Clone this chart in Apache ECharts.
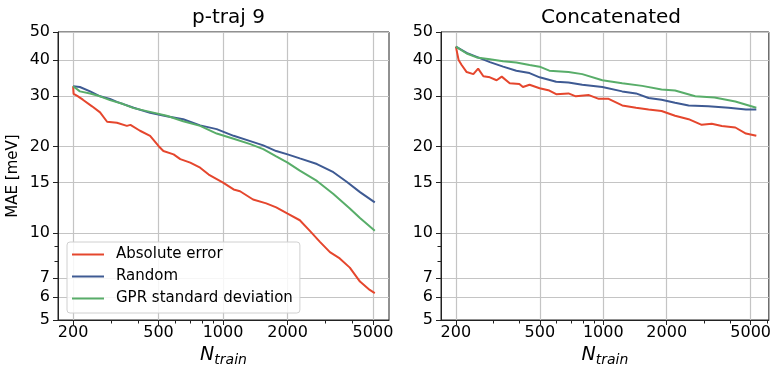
<!DOCTYPE html>
<html>
<head>
<meta charset="utf-8">
<script src="https://cdn.jsdelivr.net/npm/echarts@6/dist/echarts.min.js"></script>
<style>
html,body{margin:0;padding:0;background:#fff;}
#chart{width:774px;height:372px;}
</style>
</head>
<body>
<div id="chart"></div>
<script>
// ---- data ----
const panelTitles = ['p-traj 9', 'Concatenated'];
const seriesNames = ['Absolute error', 'Random', 'GPR standard deviation'];
const xMajorTicks = [200, 500, 1000, 2000, 5000];
const xMinorTicks = [300, 400, 600, 700, 800, 900, 3000, 4000, 6000];
const yMajorTicks = [5, 6, 7, 10, 15, 20, 30, 40, 50];
const yMinorTicks = [8, 9];

// p-traj 9
const trajErrN   = [200, 201, 209, 222, 245, 267, 288, 320, 356, 370, 410, 457, 500, 527, 588, 632, 703, 782, 857, 1000, 1120, 1200, 1380, 1590, 1770, 2000, 2280, 2540, 2830, 3150, 3500, 3900, 4350, 4830, 5100];
const trajErrMae = [32.4, 30.5, 30.0, 29.1, 27.6, 26.3, 24.4, 24.2, 23.6, 23.8, 22.7, 21.8, 20.1, 19.3, 18.8, 18.1, 17.6, 16.9, 16.0, 15.0, 14.2, 14.0, 13.1, 12.7, 12.3, 11.7, 11.1, 10.2, 9.34, 8.6, 8.18, 7.6, 6.8, 6.36, 6.2];
const trajRndN   = [200, 215, 240, 267, 297, 320, 383, 457, 546, 652, 782, 934, 1120, 1340, 1540, 1770, 2000, 2280, 2740, 3270, 3770, 4350, 5100];
const trajRndMae = [32.4, 32.2, 31.1, 29.9, 29.3, 28.6, 27.3, 26.2, 25.5, 24.9, 23.7, 23.0, 21.8, 20.9, 20.2, 19.3, 18.8, 18.2, 17.4, 16.3, 15.1, 13.9, 12.8];
const trajGprN   = [200, 215, 240, 267, 297, 342, 383, 457, 546, 652, 782, 934, 1120, 1340, 1540, 1770, 2000, 2280, 2740, 3270, 3900, 4350, 5100];
const trajGprMae = [32.4, 31.1, 30.6, 29.9, 29.0, 28.1, 27.2, 26.4, 25.6, 24.5, 23.6, 22.2, 21.3, 20.4, 19.6, 18.5, 17.6, 16.5, 15.2, 13.7, 12.2, 11.3, 10.2];

// Concatenated
const concErrN   = [200, 206, 213, 225, 242, 255, 270, 290, 312, 330, 360, 400, 416, 447, 499, 555, 598, 684, 741, 855, 952, 1060, 1230, 1430, 1640, 1890, 2190, 2540, 2930, 3270, 3650, 4230, 4750, 5320];
const concErrMae = [44.5, 40.0, 38.4, 36.3, 35.7, 37.3, 35.1, 34.8, 34.0, 35.0, 33.2, 33.0, 32.2, 32.8, 31.9, 31.3, 30.4, 30.6, 29.9, 30.2, 29.3, 29.3, 27.8, 27.3, 26.9, 26.6, 25.6, 24.9, 23.8, 24.0, 23.6, 23.3, 22.2, 21.8];
const concRndN   = [200, 225, 251, 290, 335, 387, 447, 499, 598, 684, 795, 990, 1230, 1430, 1640, 1890, 2190, 2540, 3150, 3930, 4750, 5320];
const concRndMae = [44.5, 42.3, 41.0, 39.3, 37.9, 36.7, 36.0, 34.8, 33.6, 33.4, 32.8, 32.2, 31.1, 30.6, 29.5, 29.1, 28.4, 27.8, 27.6, 27.3, 26.9, 26.9];
const concGprN   = [200, 225, 251, 290, 335, 387, 447, 499, 555, 684, 795, 990, 1230, 1530, 1890, 2190, 2730, 3370, 4230, 5320];
const concGprMae = [44.5, 42.1, 40.8, 40.2, 39.6, 39.2, 38.4, 37.9, 36.7, 36.3, 35.7, 34.0, 33.2, 32.5, 31.6, 31.3, 29.9, 29.6, 28.7, 27.3];

// ---- styling / layout ----
const colors = ['#e5462d', '#3e5a93', '#58ad69'];
const FONT = 'DejaVu Sans';
const L = Math.log10;
const xRanges = [[170, 5940], [170, 6100]];
const yRange = [5, 50];
const grids = [
  {left: 58, top: 32, width: 331, height: 290},
  {left: 441, top: 32, width: 330, height: 290}
];
const spine = '#222';
const MINOR_LEN = 3.5;

function pairs(ns, vs) { return ns.map((n, i) => [L(n), L(vs[i])]); }
function fmt(v) { return String(Math.round(Math.pow(10, v))); }

const xAxes = [], yAxes = [], series = [];
grids.forEach((g, gi) => {
  const xr = xRanges[gi];
  const xMaj = xMajorTicks.map(L), yMaj = yMajorTicks.map(L);
  xAxes.push({
    type: 'value', gridIndex: gi, position: 'bottom', min: L(xr[0]), max: L(xr[1]),
    axisLine: {show: true, onZero: false, lineStyle: {color: spine, width: 1}},
    axisTick: {show: true, customValues: xMaj, length: 5, lineStyle: {color: spine, width: 1}},
    axisLabel: {customValues: xMaj, formatter: fmt, fontFamily: FONT, fontSize: 16, color: '#000', margin: 5},
    splitLine: {show: true, lineStyle: {color: '#c4c4c4', width: 1.2}},
    name: '{n|N}{s|train}', nameLocation: 'middle', nameGap: 24,
    nameTextStyle: {rich: {
      n: {fontFamily: FONT, fontStyle: 'italic', fontSize: 19, color: '#000', lineHeight: 22},
      s: {fontFamily: FONT, fontStyle: 'italic', fontSize: 14, color: '#000', padding: [9, 0, 0, 0]}
    }}
  });
  const yMain = {
    type: 'value', gridIndex: gi, position: 'left', min: L(yRange[0]), max: L(yRange[1]),
    axisLine: {show: true, onZero: false, lineStyle: {color: spine, width: 1}},
    axisTick: {show: true, customValues: yMaj, length: 5, lineStyle: {color: spine, width: 1}},
    axisLabel: {customValues: yMaj, formatter: fmt, fontFamily: FONT, fontSize: 16, color: '#000', margin: 8},
    splitLine: {show: true, lineStyle: {color: '#c4c4c4', width: 1.2}}
  };
  if (gi === 0) {
    yMain.name = 'MAE [meV]';
    yMain.nameLocation = 'middle';
    yMain.nameGap = 37;
    yMain.nameTextStyle = {fontFamily: FONT, fontSize: 15, color: '#000'};
  }
  yAxes.push(yMain);

  // minor ticks drawn through the axis scales
  const xMinData = xMinorTicks.filter(v => v >= xr[0] && v <= xr[1]).map(v => [L(v), L(yRange[0])]);
  const yMinData = yMinorTicks.map(v => [L(xr[0]), L(v)]);
  series.push({
    type: 'custom', xAxisIndex: gi, yAxisIndex: gi, silent: true, clip: false, z: 5,
    data: xMinData,
    renderItem: (params, api) => {
      const p = api.coord([api.value(0), api.value(1)]);
      return {type: 'line', shape: {x1: Math.round(p[0]) + 0.5, y1: p[1], x2: Math.round(p[0]) + 0.5, y2: p[1] + MINOR_LEN},
        style: {stroke: '#222', lineWidth: 1}};
    }
  });
  series.push({
    type: 'custom', xAxisIndex: gi, yAxisIndex: gi, silent: true, clip: false, z: 5,
    data: yMinData,
    renderItem: (params, api) => {
      const p = api.coord([api.value(0), api.value(1)]);
      return {type: 'line', shape: {x1: p[0], y1: Math.round(p[1]) + 0.5, x2: p[0] - MINOR_LEN, y2: Math.round(p[1]) + 0.5},
        style: {stroke: '#222', lineWidth: 1}};
    }
  });
});

const panelData = [
  [pairs(trajErrN, trajErrMae), pairs(trajRndN, trajRndMae), pairs(trajGprN, trajGprMae)],
  [pairs(concErrN, concErrMae), pairs(concRndN, concRndMae), pairs(concGprN, concGprMae)]
];
panelData.forEach((sets, gi) => {
  sets.forEach((d, si) => {
    series.push({
      type: 'line', name: seriesNames[si], xAxisIndex: gi, yAxisIndex: gi,
      data: d, symbol: 'none', smooth: false, animation: false,
      lineStyle: {color: colors[si], width: 2}, itemStyle: {color: colors[si]}
    });
  });
});

const chart = echarts.init(document.getElementById('chart'), null, {renderer: 'canvas'});
chart.setOption({
  animation: false,
  color: colors,
  title: grids.map((g, gi) => ({
    text: panelTitles[gi], left: g.left + g.width / 2, top: 3, textAlign: 'center',
    textStyle: {fontFamily: FONT, fontSize: 20, fontWeight: 'normal', color: '#000'}
  })),
  grid: grids.map(g => Object.assign({show: true, borderColor: spine, borderWidth: 1, backgroundColor: 'transparent'}, g)),
  xAxis: xAxes,
  yAxis: yAxes,
  legend: {
    data: seriesNames, orient: 'vertical', left: 67, top: 242,
    icon: 'rect', itemWidth: 32, itemHeight: 2, itemGap: 7,
    padding: [5, 7, 7, 5],
    backgroundColor: 'rgba(255,255,255,0.85)', borderColor: '#d0d0d0', borderWidth: 1, borderRadius: 3,
    textStyle: {fontFamily: FONT, fontSize: 15, color: '#000', lineHeight: 15, padding: [0, 0, 0, 7]}
  },
  series: series
});
</script>
</body>
</html>
